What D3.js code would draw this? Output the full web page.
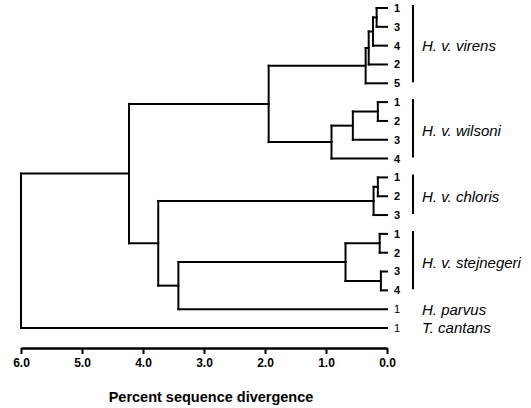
<!DOCTYPE html>
<html>
<head>
<meta charset="utf-8">
<script src="https://cdn.jsdelivr.net/npm/d3@7/dist/d3.min.js"></script>
<style>
  html, body { margin: 0; padding: 0; background: #fff; }
  svg { display: block; }
</style>
</head>
<body>
<svg id="chart" width="531" height="408"></svg>
<script>
// ---- data ----
const leafIds    = ["v1","v3","v4","v2","v5","w1","w2","w3","w4","c1","c2","c3","s1","s2","s3","s4","parvus","cantans"];
const leafLabels = ["1","3","4","2","5","1","2","3","4","1","2","3","1","2","3","4","1","1"];
const leafParents= ["V1","V1","V2","V3","VR","W1","W1","W2","WR","C1","C1","CR","S1","S1","S2","S2","D","root"];

const nodeIds     = ["root","A","B","C","VR","V3","V2","V1","WR","W2","W1","CR","C1","D","SR","S1","S2"];
const nodeParents = [null,  "root","A","A","B","VR","V3","V2","B","WR","W2","C","CR","C","D","SR","SR"];
const nodeHeights = [6.0,   4.23, 1.94, 3.75, 0.35, 0.30, 0.23, 0.17, 0.91, 0.56, 0.15, 0.22, 0.15, 3.42, 0.68, 0.12, 0.10];

const groupNames = ["H. v. virens","H. v. wilsoni","H. v. chloris","H. v. stejnegeri","H. parvus","T. cantans"];
const groupFirst = [0, 5, 9, 12, 16, 17];
const groupLast  = [4, 8, 11, 15, 16, 17];

const tickValues = [6,5,4,3,2,1,0];
const axisTitle = "Percent sequence divergence";

// ---- build tree ----
const rows = [];
nodeIds.forEach((id,i)=>rows.push({id, parent: nodeParents[i], height: nodeHeights[i]}));
leafIds.forEach((id,i)=>rows.push({id, parent: leafParents[i], height: 0, label: leafLabels[i], idx: i}));
const root = d3.stratify().id(d=>d.id).parentId(d=>d.parent)(rows);

const svg = d3.select("#chart");
const x = d3.scaleLinear().domain([6,0]).range([21,387]);
const y = d3.scalePoint().domain(leafIds).range([8,328]);

// positions
root.eachAfter(n=>{
  n.px = x(n.data.height);
  if (!n.children) n.py = y(n.data.id);
  else n.py = d3.mean(n.children, c=>c.py);
});

const g = svg.append("g").attr("stroke","#000").attr("stroke-width",2).attr("stroke-linecap","square").attr("fill","none");
root.each(n=>{
  if (n.children) {
    const ys = n.children.map(c=>c.py);
    g.append("line").attr("x1",n.px).attr("x2",n.px).attr("y1",d3.min(ys)).attr("y2",d3.max(ys));
  }
  if (n.parent) {
    g.append("line").attr("x1",n.parent.px).attr("x2",n.px).attr("y1",n.py).attr("y2",n.py);
  }
});

// leaf labels
const font = "'Liberation Sans', Arial, Helvetica, sans-serif";
root.leaves().forEach(n=>{
  const i = n.data.idx;
  svg.append("text")
    .attr("x", 397).attr("y", n.py).attr("dy","0.36em")
    .attr("text-anchor","middle")
    .attr("font-family", font).attr("font-size", 11)
    .attr("font-weight", i >= 16 ? "normal" : "bold")
    .text(n.data.label);
});

// group brackets and names
groupNames.forEach((name,i)=>{
  const y0 = y(leafIds[groupFirst[i]]), y1 = y(leafIds[groupLast[i]]);
  if (groupLast[i] > groupFirst[i]) {
    svg.append("line").attr("x1",413).attr("x2",413).attr("y1",y0-3).attr("y2",y1-1)
      .attr("stroke","#000").attr("stroke-width",2);
  }
  svg.append("text")
    .attr("x", 422).attr("y", (y0+y1)/2).attr("dy","0.36em")
    .attr("font-family", font).attr("font-size", 15).attr("font-style","italic")
    .text(name);
});

// axis
const axis = d3.axisBottom(x).tickValues(tickValues).tickFormat(d3.format(".1f")).tickSize(6).tickSizeOuter(0).tickPadding(4);
const ag = svg.append("g").attr("transform","translate(0,348)").call(axis);
ag.select(".domain").attr("stroke","#000").attr("stroke-width",2.5);
ag.selectAll(".tick line").attr("stroke","#000").attr("stroke-width",2);
ag.selectAll(".tick text").attr("font-family",font).attr("font-size",12).attr("font-weight","bold").attr("fill","#000");

svg.append("text")
  .attr("x", 211).attr("y", 397).attr("dy","0.36em")
  .attr("text-anchor","middle")
  .attr("font-family", font).attr("font-size", 14.5).attr("font-weight","bold")
  .text(axisTitle);
</script>
</body>
</html>
